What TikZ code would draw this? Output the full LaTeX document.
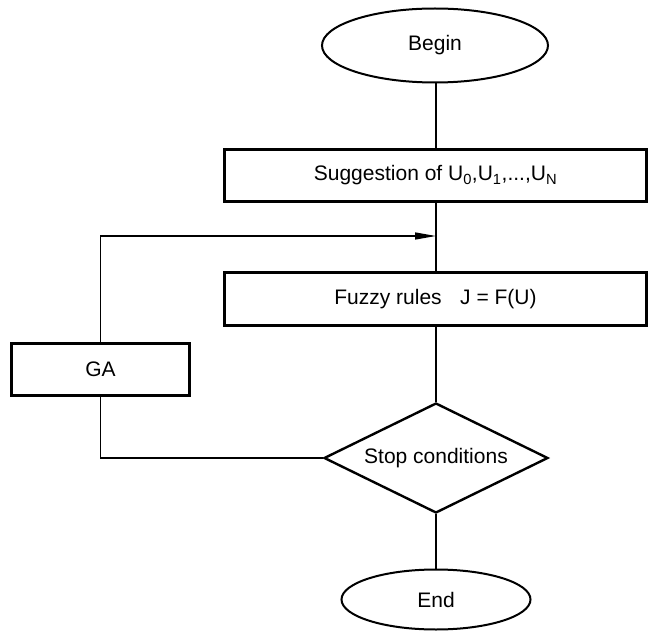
\documentclass[tikz,border=0pt]{standalone}
\usepackage{fontspec}
\setmainfont{Liberation Sans}
\usetikzlibrary{shapes.geometric,arrows.meta}
\tikzset{
  boxnode/.style={draw, line width=2.2pt, rectangle, inner sep=0pt, font=\fontsize{21}{24}\selectfont},
  ovalnode/.style={draw, line width=2pt, ellipse, inner sep=0pt, font=\fontsize{21}{24}\selectfont},
  decnode/.style={draw, line width=2.4pt, diamond, aspect=2, inner sep=0pt, font=\fontsize{21}{24}\selectfont},
  conn/.style={line width=1.4pt},
  feedarrow/.style={line width=1.4pt, -{Triangle[length=21pt, width=7pt]}}
}
\begin{document}
\begin{tikzpicture}[x=1pt,y=-1pt]
\useasboundingbox (0,0) rectangle (648,631);
\node[ovalnode, minimum width=226pt, minimum height=74pt] (begin) at (435,45.5) {Begin};
\node[boxnode, minimum width=422pt, minimum height=52pt] (sugg) at (435.5,175.5) {Suggestion of U\textsubscript{0},U\textsubscript{1},...,U\textsubscript{N}};
\node[boxnode, minimum width=422pt, minimum height=53pt] (fuzzy) at (435.5,299) {Fuzzy rules\hspace{0.6em} J = F(U)};
\node[boxnode, minimum width=178pt, minimum height=52pt] (ga) at (100.5,369.5) {GA};
\node[decnode, minimum width=224pt, minimum height=110pt] (stop) at (436,458) {Stop conditions};
\node[ovalnode, minimum width=189pt, minimum height=60pt] (end) at (436,599.5) {End};
\coordinate (join) at (436,236);
\draw[conn] (begin.south -| join) -- (sugg.north -| join);
\draw[conn] (sugg.south -| join) -- (fuzzy.north -| join);
\draw[conn] (fuzzy.south -| join) -- (stop.north);
\draw[conn] (stop.south) -- (end.north -| stop.south);
\draw[feedarrow] (ga.north) |- (join);
\draw[conn] (ga.south) |- (stop.west);
\end{tikzpicture}
\end{document}
